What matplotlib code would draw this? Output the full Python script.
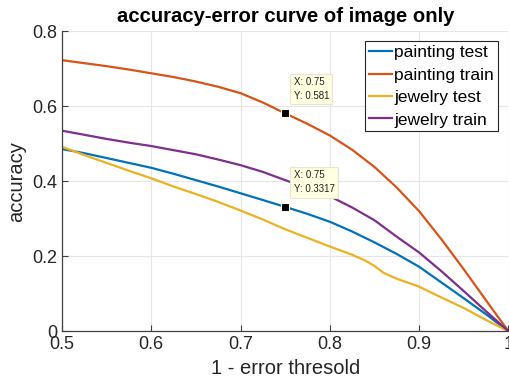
import matplotlib
matplotlib.use("Agg")
import matplotlib.pyplot as plt

plt.rcParams['font.family'] = ['Liberation Sans', 'DejaVu Sans']

x = [0.5, 0.525, 0.55, 0.575, 0.6, 0.625, 0.65, 0.675, 0.7, 0.725, 0.75,
     0.775, 0.8, 0.825, 0.85, 0.875, 0.9, 0.925, 0.95, 0.975, 1.0]
painting_test = [0.486, 0.475, 0.462, 0.449, 0.436, 0.420, 0.403, 0.386, 0.368, 0.350, 0.3317,
                 0.313, 0.292, 0.266, 0.237, 0.206, 0.172, 0.130, 0.088, 0.045, 0.0]
painting_train = [0.723, 0.715, 0.707, 0.698, 0.688, 0.678, 0.666, 0.652, 0.635, 0.610, 0.581,
                  0.553, 0.522, 0.484, 0.438, 0.383, 0.320, 0.245, 0.165, 0.082, 0.0]
jewelry_train = [0.535, 0.524, 0.513, 0.503, 0.494, 0.483, 0.472, 0.458, 0.443, 0.425, 0.403,
                 0.382, 0.360, 0.330, 0.296, 0.252, 0.210, 0.160, 0.107, 0.053, 0.0]
x_jt = [0.5, 0.525, 0.55, 0.575, 0.6, 0.625, 0.65, 0.675, 0.7, 0.725, 0.75,
        0.775, 0.8, 0.825, 0.84, 0.85, 0.86, 0.875, 0.9, 0.925, 0.95, 0.975, 1.0]
jewelry_test = [0.492, 0.470, 0.449, 0.428, 0.408, 0.386, 0.366, 0.345, 0.322, 0.298, 0.272,
                0.249, 0.226, 0.204, 0.188, 0.174, 0.156, 0.140, 0.119, 0.090, 0.062, 0.030, 0.0]

tips = [(0.75, 0.581), (0.75, 0.3317)]
tip_labels = ["X: 0.75\nY: 0.581", "X: 0.75\nY: 0.3317"]

xticks = [0.5, 0.6, 0.7, 0.8, 0.9, 1.0]
xticklabels = ["0.5", "0.6", "0.7", "0.8", "0.9", "1"]
yticks = [0, 0.2, 0.4, 0.6, 0.8]
yticklabels = ["0", "0.2", "0.4", "0.6", "0.8"]

fig = plt.figure(figsize=(5.09, 3.90), dpi=100)
ax = fig.add_axes([62/509, 1-331.3/390, (508.5-62)/509, (331.3-31.3)/390])

lw = 1.6
ax.plot(x, painting_test, color='#0072BD', lw=lw, label='painting test')
ax.plot(x, painting_train, color='#D95319', lw=lw, label='painting train')
ax.plot(x_jt, jewelry_test, color='#EDB120', lw=lw, label='jewelry test')
ax.plot(x, jewelry_train, color='#7E2F8E', lw=lw, label='jewelry train')

for (tx, ty), lab in zip(tips, tip_labels):
    ax.plot([tx], [ty], 's', color='black', ms=6, mec='#FFFFE1', mew=0.8, zorder=5)
    ax.annotate(lab, xy=(tx, ty), xytext=(6, 9), textcoords='offset points',
                fontsize=7, color='#222222', va='bottom', ha='left', linespacing=1.5,
                bbox=dict(boxstyle='square,pad=0.35', fc='#FFFFE1', ec='#E6E6D0', lw=0.8),
                zorder=6)

ax.set_xlim(0.5, 1.0)
ax.set_ylim(0, 0.8)
ax.set_xticks(xticks)
ax.set_xticklabels(xticklabels)
ax.set_yticks(yticks)
ax.set_yticklabels(yticklabels)
ax.tick_params(direction='in', length=4, width=0.8, colors='#404040', labelsize=13,
               labelcolor='#262626')
ax.grid(True, color='#E6E6E6', lw=0.8)
ax.set_axisbelow(True)
for s in ['top', 'right']:
    ax.spines[s].set_visible(False)
for s in ['left', 'bottom']:
    ax.spines[s].set_color('#404040')
    ax.spines[s].set_linewidth(0.9)

ax.set_xlabel('1 - error thresold', fontsize=14.5, color='#262626', labelpad=4)
ax.set_ylabel('accuracy', fontsize=14.5, color='#262626', labelpad=4)
ax.set_title('accuracy-error curve of image only', fontsize=14.6, fontweight='bold',
             color='black', pad=7)

leg = ax.legend(loc='upper right', bbox_to_anchor=(0.9765, 0.967), fontsize=12.5,
                frameon=True, fancybox=False, edgecolor='#262626', framealpha=1,
                handlelength=1.3, handletextpad=0.15, borderpad=0.22, labelspacing=0.42,
                borderaxespad=0.0)
leg.get_frame().set_linewidth(0.8)

fig.savefig('out.png', dpi=100)
